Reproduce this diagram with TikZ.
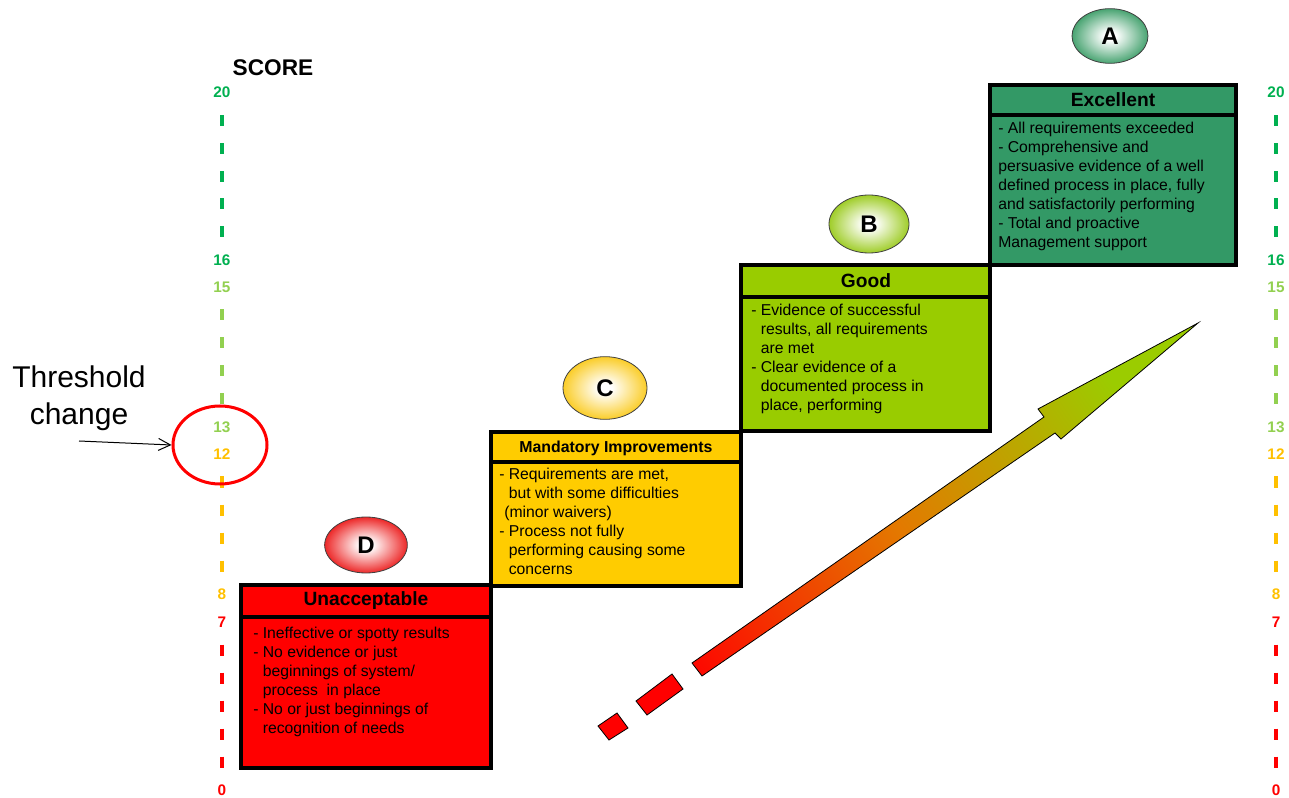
\documentclass[tikz,border=0pt]{standalone}
\usepackage{fontspec}
\setmainfont{Liberation Sans}
\usetikzlibrary{shapes.geometric,arrows.meta}
\definecolor{scGreen}{RGB}{0,176,80}
\definecolor{scLGreen}{RGB}{146,208,80}
\definecolor{scAmber}{RGB}{255,192,0}
\definecolor{scRed}{RGB}{255,0,0}
\definecolor{boxA}{RGB}{51,153,102}
\definecolor{boxB}{RGB}{153,204,0}
\definecolor{boxC}{RGB}{255,204,0}
\definecolor{boxD}{RGB}{255,0,0}
\definecolor{ovA}{RGB}{55,155,100}
\definecolor{ovB}{RGB}{150,200,20}
\definecolor{ovC}{RGB}{250,200,20}
\definecolor{ovD}{RGB}{235,20,20}
\definecolor{arrMid}{RGB}{228,120,0}
\definecolor{arrTop}{RGB}{155,204,0}
\colorlet{ovcol}{ovA}
\pgfdeclareradialshading[ovcol]{ovshade}{\pgfpoint{0bp}{0bp}}{color(0bp)=(white); color(4bp)=(white); color(27bp)=(ovcol); color(50bp)=(ovcol)}
\begin{document}
\begin{tikzpicture}[x=0.75pt,y=-0.75pt,
  boxline/.style={draw=black,line width=3pt},
  hdr/.style={font=\fontsize{14.4}{17}\selectfont\bfseries, inner sep=0pt},
  hdrsmall/.style={font=\fontsize{11.9}{14}\selectfont\bfseries, inner sep=0pt},
  body/.style={font=\fontsize{11.8}{14.25}\selectfont, align=left, anchor=north west, inner sep=0pt},
  num/.style={font=\fontsize{11.5}{13}\selectfont\bfseries, inner sep=0pt},
  tickmark/.style={line width=2.4pt},
  grade/.style={ellipse, draw=black!75, line width=0.6pt, shade, shading=ovshade,
    inner sep=0pt, font=\fontsize{18}{20}\selectfont\bfseries},
]
\useasboundingbox (0,0) rectangle (1289,798);

% ---- score title
\node[font=\fontsize{17}{20}\selectfont\bfseries, inner sep=0pt] (score) at (273,68) {SCORE};

% ---- scales
\foreach \side/\xx in {L/222,R/1276} {
  \foreach \yy/\lab/\col [count=\i] in {92/20/scGreen, 260/16/scGreen, 287/15/scLGreen, 427/13/scLGreen, 454/12/scAmber, 594/8/scAmber, 622/7/scRed, 790/0/scRed}
    \node[num, text=\col] (n\side\i) at (\xx,\yy) {\lab};
  \foreach \yy/\col in {121/scGreen,149/scGreen,177/scGreen,204/scGreen,232/scGreen,
                        315/scLGreen,343/scLGreen,371/scLGreen,399/scLGreen,
                        482/scAmber,510/scAmber,538/scAmber,566/scAmber,
                        650/scRed,678/scRed,706/scRed,734/scRed,762/scRed}
    \draw[tickmark, \col] (\xx,\yy-5.5) -- (\xx,\yy+5.5);
}

% ---- threshold
\node[ellipse, draw=scRed, line width=2.25pt, minimum width=70.5pt, minimum height=58.5pt, inner sep=0pt] (thrcircle) at (220,445) {};
\node[font=\fontsize{22.5}{27.75}\selectfont, align=center, anchor=north, inner sep=0pt] (thr) at (79,365.5) {Threshold\\change};
\coordinate (thrstart) at (79,441);
\draw[line width=0.75pt, -{Straight Barb[length=9pt,width=9pt]}] (thrstart) -- (thrcircle.west);

% ---- boxes
\draw[boxline, fill=boxD] (241,585) rectangle (491,768);
\draw[boxline] (241,617) -- (491,617);
\draw[boxline, fill=boxC] (491,432) rectangle (741,586);
\draw[boxline] (491,462) -- (741,462);
\draw[boxline, fill=boxB] (741,265) rectangle (990,431);
\draw[boxline] (741,297) -- (990,297);
\draw[boxline, fill=boxA] (990,85) rectangle (1236,265);
\draw[boxline] (990,115) -- (1236,115);

\node[hdr] (hD) at (366,601) {Unacceptable};
\node[hdrsmall] (hC) at (616,448) {Mandatory Improvements};
\node[hdr] (hB) at (866,281) {Good};
\node[hdr] (hA) at (1113,100) {Excellent};

\node[body] (bD) at (253,626.5) {- Ineffective or spotty results\\- No evidence or just\\\phantom{- }beginnings of system/\\\phantom{- }process\ \ in place\\- No or just beginnings of\\\phantom{- }recognition of needs};
\node[body] (bC) at (499,467.5) {- Requirements are met,\\\phantom{- }but with some difficulties\\\hspace{3.75pt}(minor waivers)\\- Process not fully\\\phantom{- }performing causing some\\\phantom{- }concerns};
\node[body] (bB) at (751,303.5) {- Evidence of successful\\\phantom{- }results, all requirements\\\phantom{- }are met\\- Clear evidence of a\\\phantom{- }documented process in\\\phantom{- }place, performing};
\node[body] (bA) at (998,121.5) {- All requirements exceeded\\- Comprehensive and\\persuasive evidence of a well\\defined process in place, fully\\and satisfactorily performing\\- Total and proactive\\Management support};

% ---- grade ovals
\colorlet{ovcol}{ovA}
\node[grade, minimum width=57pt, minimum height=41pt] (gA) at (1110,36) {A};
\colorlet{ovcol}{ovB}
\node[grade, minimum width=60pt, minimum height=43.5pt] (gB) at (869,224) {B};
\colorlet{ovcol}{ovC}
\node[grade, minimum width=63pt, minimum height=47pt] (gC) at (605,388) {C};
\colorlet{ovcol}{ovD}
\node[grade, minimum width=62pt, minimum height=42pt] (gD) at (366,545) {D};

% ---- progress arrow
\shade[draw=black, line width=0.6pt, bottom color=scRed, top color=arrTop, middle color=arrMid, shading angle=-55]
  (598,726) -- (617,713) -- (628,728) -- (609,740) -- cycle
  (636,701) -- (672,674) -- (683,689) -- (647,715) -- cycle
  (692,663) -- (1044,417) -- (1038,409) -- (1198,323) -- (1061,439) -- (1055,433) -- (702,676) -- cycle;
\end{tikzpicture}
\end{document}
